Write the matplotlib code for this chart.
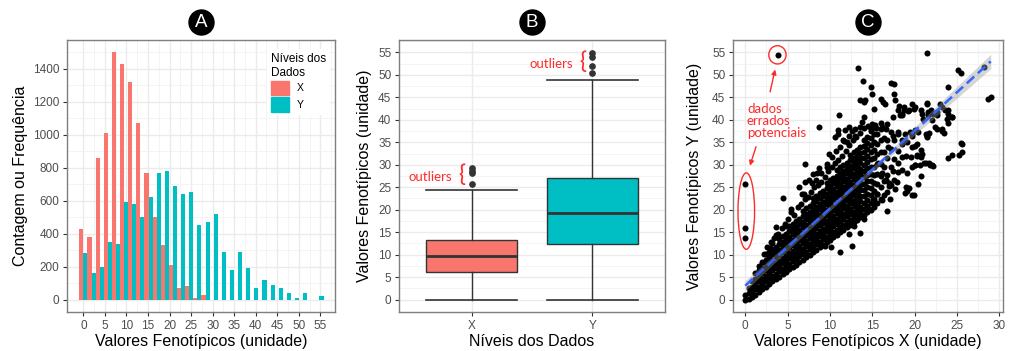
import numpy as np
import matplotlib
matplotlib.use("Agg")
import matplotlib.pyplot as plt
from matplotlib.patches import Ellipse, Patch

plt.rcParams['font.family'] = ['Liberation Sans', 'DejaVu Sans']

RED = '#F8766D'
TEAL = '#00BFC4'
NOTE = '#FF2B2B'

# ---------------- panel A : histogram counts (30 bins from 0 to max) ----------------
hist_min, hist_max = 0.0, 54.8
count_x = [430, 380, 860, 1010, 1500, 1430, 1320, 1070, 770, 500, 330, 210, 70, 80, 10, 30,
           0, 0, 0, 0, 0, 0, 0, 0, 0, 0, 0, 0, 0, 0]
count_y = [280, 160, 200, 350, 340, 590, 580, 500, 620, 770, 780, 690, 640, 650, 450,
           470, 520, 290, 180, 290, 190, 70, 120, 90, 70, 40, 10, 40, 0, 20]
hist_xticks = list(range(0, 60, 5))
hist_yticks = list(range(0, 1600, 200))

# ---------------- panel B : boxplot summaries ----------------
box_names = ['X', 'Y']
box_q1 = [6.1, 12.3]
box_med = [9.6, 19.3]
box_q3 = [13.3, 27.0]
box_lo = [0.0, 0.0]
box_hi = [24.4, 48.8]
box_out = [[25.7, 28.2, 28.7, 29.3], [50.5, 52.0, 54.0, 54.8]]

# ---------------- panel C : scatter X vs Y ----------------
# dense cloud, read column by column (x, list of y)
cloud_cols = [
    (0.0, [0.0, 1.0]),
    (0.4, [0.2, 1.4, 2.6]),
    (0.8, [0.5, 1.7, 2.9, 4.1]),
    (1.2, [1.1, 2.3, 3.5, 4.7, 5.9]),
    (1.6, [1.7, 2.9, 4.1, 5.3, 6.5, 7.4]),
    (2.0, [2.3, 3.5, 4.7, 5.9, 7.1, 8.3]),
    (2.4, [2.9, 4.1, 5.3, 6.5, 7.7, 8.9, 10.1]),
    (2.8, [3.5, 4.7, 5.9, 7.1, 8.3, 9.5, 10.7]),
    (3.2, [4.1, 5.3, 6.5, 7.7, 8.9, 10.1, 11.3]),
    (3.6, [4.6, 5.8, 7.0, 8.2, 9.4, 10.6, 11.8]),
    (4.0, [5.1, 6.3, 7.5, 8.7, 9.9, 11.1, 12.3, 13.5]),
    (4.4, [5.7, 6.9, 8.1, 9.3, 10.5, 11.7, 12.9, 14.1]),
    (4.8, [6.2, 7.4, 8.6, 9.8, 11.0, 12.2, 13.4, 14.6]),
    (5.2, [6.8, 8.0, 9.2, 10.4, 11.6, 12.8, 14.0, 15.2, 16.4]),
    (5.6, [7.3, 8.5, 9.7, 10.9, 12.1, 13.3, 14.5, 15.7, 16.9]),
    (6.0, [7.8, 9.0, 10.2, 11.4, 12.6, 13.8, 15.0, 16.2, 17.4]),
    (6.4, [8.4, 9.6, 10.8, 12.0, 13.2, 14.4, 15.6, 16.8, 18.0]),
    (6.8, [8.9, 10.1, 11.3, 12.5, 13.7, 14.9, 16.1, 17.3, 18.5, 19.7]),
    (7.2, [9.5, 10.7, 11.9, 13.1, 14.3, 15.5, 16.7, 17.9, 19.1, 20.3]),
    (7.6, [10.0, 11.2, 12.4, 13.6, 14.8, 16.0, 17.2, 18.4, 19.6, 20.8]),
    (8.0, [10.6, 11.8, 13.0, 14.2, 15.4, 16.6, 17.8, 19.0, 20.2, 21.4, 22.6]),
    (8.4, [11.1, 12.3, 13.5, 14.7, 15.9, 17.1, 18.3, 19.5, 20.7, 21.9, 23.1]),
    (8.8, [11.7, 12.9, 14.1, 15.3, 16.5, 17.7, 18.9, 20.1, 21.3, 22.5, 23.7]),
    (9.2, [12.2, 13.4, 14.6, 15.8, 17.0, 18.2, 19.4, 20.6, 21.8, 23.0, 24.2]),
    (9.6, [12.8, 14.0, 15.2, 16.4, 17.6, 18.8, 20.0, 21.2, 22.4, 23.6, 24.8, 26.0]),
    (10.0, [13.3, 14.5, 15.7, 16.9, 18.1, 19.3, 20.5, 21.7, 22.9, 24.1, 25.3, 26.5]),
    (10.4, [13.9, 15.1, 16.3, 17.5, 18.7, 19.9, 21.1, 22.3, 23.5, 24.7, 25.9, 27.1]),
    (10.8, [14.4, 15.6, 16.8, 18.0, 19.2, 20.4, 21.6, 22.8, 24.0, 25.2, 26.4, 27.6, 28.8]),
    (11.2, [15.0, 16.2, 17.4, 18.6, 19.8, 21.0, 22.2, 23.4, 24.6, 25.8, 27.0, 28.2, 29.4]),
    (11.6, [15.5, 16.7, 17.9, 19.1, 20.3, 21.5, 22.7, 23.9, 25.1, 26.3, 27.5, 28.7, 29.9]),
    (12.0, [16.1, 17.3, 18.5, 19.7, 20.9, 22.1, 23.3, 24.5, 25.7, 26.9, 28.1, 29.3, 30.5]),
    (12.4, [16.6, 17.8, 19.0, 20.2, 21.4, 22.6, 23.8, 25.0, 26.2, 27.4, 28.6, 29.8, 31.0, 32.2]),
    (12.8, [17.2, 18.4, 19.6, 20.8, 22.0, 23.2, 24.4, 25.6, 26.8, 28.0, 29.2, 30.4, 31.6, 32.8]),
    (13.2, [17.7, 18.9, 20.1, 21.3, 22.5, 23.7, 24.9, 26.1, 27.3, 28.5, 29.7, 30.9, 32.1, 33.3]),
    (13.6, [18.3, 19.5, 20.7, 21.9, 23.1, 24.3, 25.5, 26.7, 27.9, 29.1, 30.3, 31.5, 32.7, 33.9]),
    (14.0, [18.8, 20.2, 21.6, 23.0, 24.4, 25.8, 27.2, 28.6, 30.0, 31.4, 32.8, 34.2, 35.6]),
    (14.4, [19.4, 20.8, 22.2, 23.6, 25.0, 26.4, 27.8, 29.2, 30.6, 32.0, 33.4, 34.8, 36.2]),
    (14.8, [20.0, 21.6, 23.2, 24.8, 26.4, 28.0, 29.6, 31.2, 32.8, 34.4, 36.0, 37.4]),
    (15.2, [20.6, 22.4, 24.2, 26.0, 27.8, 29.6, 31.4, 33.2, 35.0, 36.8]),
    (15.6, [21.4, 23.6, 25.8, 28.0, 30.2, 32.4, 34.6, 36.8]),
    (16.0, [22.4, 25.0, 27.6, 30.2, 32.8, 35.4, 38.0]),
    (16.4, [23.2, 26.4, 29.6, 32.8, 36.0]),
    (16.8, [24.0, 27.8, 31.6, 35.4]),
    (17.2, [25.4, 29.4, 33.4, 37.2]),
    (17.6, [26.6, 31.2, 35.6]),
    (18.0, [28.4, 33.0, 36.8]),
]

# loose points around the cloud
stray_pts = [
    (0.0, 25.8), (0.0, 16.0), (0.0, 13.7), (3.84, 54.4),
    (2.6, 11.8), (3.0, 12.9), (3.4, 13.6), (3.9, 14.6), (4.3, 16.0), (4.7, 16.9), (5.0, 18.0),
    (5.4, 19.6), (5.8, 18.9), (6.2, 20.6), (6.6, 21.3), (7.0, 22.4), (6.9, 23.4), (7.4, 22.8),
    (7.8, 24.0), (8.1, 25.1), (8.6, 25.4), (8.3, 26.5), (9.0, 26.2), (9.4, 27.3), (8.9, 28.2),
    (9.8, 28.6), (10.2, 29.4), (9.6, 30.1), (10.6, 30.4), (11.0, 31.1), (10.3, 31.8), (11.4, 32.0),
    (11.9, 33.1), (11.2, 34.0), (12.3, 34.5), (12.7, 35.4), (12.2, 36.4), (13.1, 36.1), (13.5, 37.0),
    (13.0, 38.0), (14.0, 38.2), (14.5, 38.6), (15.0, 39.0), (15.4, 38.2), (16.0, 39.3), (16.6, 38.0),
    (13.8, 39.5), (12.6, 37.6), (11.7, 35.3), (10.7, 33.0), (9.9, 32.3), (10.9, 36.9), (11.1, 41.0),
    (12.3, 38.4), (8.7, 38.4), (7.1, 30.1), (4.4, 22.7), (6.4, 25.1), (7.0, 26.2), (7.5, 26.6),
    (8.0, 27.9), (8.5, 28.1), (8.7, 29.2), (9.7, 29.5), (14.0, 40.6),
    (3.6, 14.4), (2.9, 11.4), (3.6, 16.2), (2.2, 10.1), (3.2, 12.7), (4.8, 16.4), (5.4, 20.1),
    (6.7, 23.4), (7.9, 26.0),
    (13.3, 51.5), (13.9, 48.7), (14.9, 47.4), (15.0, 45.8), (13.5, 44.3), (14.1, 44.4), (14.0, 43.9),
    (15.2, 42.5), (16.05, 44.7), (16.3, 43.9), (16.5, 43.6), (17.2, 48.1), (17.6, 48.0), (17.6, 45.8),
    (17.7, 44.3), (18.2, 43.0), (18.7, 42.1), (18.5, 41.0), (19.2, 41.9),
    (11.0, 37.7), (11.8, 37.7), (10.6, 36.2), (11.6, 35.4), (12.0, 35.1), (13.0, 36.5), (13.6, 38.4),
    (14.8, 38.0), (15.3, 38.8), (17.5, 36.5), (18.1, 37.3), (16.9, 34.0), (18.5, 35.4), (19.1, 35.1),
    (19.5, 37.3),
    (21.5, 54.9), (25.1, 51.1), (25.5, 50.4), (28.2, 51.7), (23.9, 47.4), (28.7, 44.7), (29.0, 45.0),
    (19.7, 43.6), (20.0, 42.8), (21.5, 43.7), (20.8, 42.1), (21.9, 42.1), (22.6, 41.0), (23.6, 42.1),
    (23.9, 41.3), (24.4, 40.6), (23.8, 40.2), (23.0, 43.6), (21.0, 40.2), (21.6, 41.0), (22.1, 39.9),
    (20.0, 37.7), (20.4, 37.3), (22.7, 38.0), (23.3, 37.5), (19.7, 36.5), (21.5, 36.5), (20.0, 34.1),
    (20.75, 33.2), (20.8, 31.7), (21.4, 30.3), (21.8, 29.9), (22.2, 29.7), (19.7, 29.5), (20.0, 29.9),
    (25.5, 34.8), (24.0, 31.4), (24.4, 32.1), (20.25, 32.1), (20.4, 25.8), (19.9, 23.2),
    (16.7, 19.7), (13.6, 14.9), (12.6, 12.0), (11.2, 10.5), (10.1, 11.6), (9.4, 12.0), (12.2, 14.6),
    (12.8, 16.4), (15.3, 21.5), (17.1, 22.3), (16.95, 25.2), (19.1, 24.1), (19.3, 24.9), (14.6, 20.1),
    (14.0, 17.9),
    (15.1, 22.3), (15.6, 23.6), (16.2, 22.1), (16.96, 26.0), (17.9, 26.2), (17.7, 24.7), (18.9, 23.8),
    (19.7, 23.3), (19.0, 25.1), (20.8, 27.5), (20.1, 29.9), (20.7, 29.9), (21.1, 30.3), (21.7, 30.3),
    (22.1, 29.9), (19.6, 31.7), (20.3, 31.9), (20.9, 32.5), (19.1, 28.1), (18.5, 28.8), (17.4, 28.6),
    (18.1, 30.3), (15.7, 30.3), (16.2, 28.1), (16.6, 26.6), (18.5, 31.7), (19.0, 31.9), (21.7, 37.1),
    (24.0, 42.1), (24.4, 40.6), (23.9, 39.3), (23.2, 38.0), (23.5, 37.1), (22.4, 38.4), (22.2, 41.3),
    (22.6, 41.7), (23.2, 42.8), (21.5, 43.6), (21.6, 41.7), (20.9, 41.3), (19.9, 42.5), (19.3, 42.1),
    (18.5, 41.3), (18.3, 41.0), (25.2, 32.1), (25.6, 32.9), (25.6, 34.7), (21.3, 36.9), (21.5, 36.2),
    (20.3, 34.7), (19.7, 34.0), (18.5, 34.7), (19.7, 36.9), (18.9, 36.9), (16.2, 38.4), (16.8, 39.1),
    (17.4, 40.6), (18.1, 42.1), (18.7, 42.8),
]
# fitted lm line (slope, intercept)
lm_coef = [1.72, 3.1]

sc_xticks = list(range(0, 35, 5))
val_yticks = list(range(0, 60, 5))

sc_x = [cx for cx, ys in cloud_cols for _ in ys] + [p[0] for p in stray_pts]
sc_y = [y for cx, ys in cloud_cols for y in ys] + [p[1] for p in stray_pts]
sc_x = np.array(sc_x)
sc_y = np.array(sc_y)


def style_axes(ax):
    ax.set_facecolor('white')
    for s in ax.spines.values():
        s.set_color('#7F7F7F')
        s.set_linewidth(1.0)
    ax.tick_params(which='major', length=3, width=0.8, color='#333333',
                   labelsize=8.5, labelcolor='#4D4D4D', pad=2.5)
    ax.tick_params(which='minor', length=0)
    ax.grid(which='major', color='#EBEBEB', linewidth=1.0, zorder=0)
    ax.grid(which='minor', color='#F2F2F2', linewidth=0.6, zorder=0)
    ax.set_axisbelow(True)


def titles(ax, xt, yt, ypos):
    ax.set_xlabel(xt, fontsize=11.5, va='center')
    ax.set_ylabel(yt, fontsize=11.5, va='center')
    ax.xaxis.set_label_coords(0.5, -0.108)
    ax.yaxis.set_label_coords(ypos, 0.5)


def badge(ax, letter):
    ax.plot([0.5], [1.067], 'o', ms=18, color='black', transform=ax.transAxes, clip_on=False)
    ax.text(0.5, 1.066, letter, color='white', fontsize=13.5, ha='center', va='center',
            transform=ax.transAxes)


fig = plt.figure(figsize=(10.1, 3.51), dpi=100)
axA = fig.add_axes([67 / 1010, 1 - 312 / 351, 268 / 1010, 272 / 351])
axB = fig.add_axes([399 / 1010, 1 - 312 / 351, 266 / 1010, 272 / 351])
axC = fig.add_axes([733 / 1010, 1 - 312 / 351, 270 / 1010, 272 / 351])

# ---- A
bw = (hist_max - hist_min) / (len(count_x) - 1)
centers = hist_min + bw * np.arange(len(count_x))
style_axes(axA)
axA.bar(centers - bw / 4, count_x, width=bw / 2, color=RED, linewidth=0, zorder=2)
axA.bar(centers + bw / 4, count_y, width=bw / 2, color=TEAL, linewidth=0, zorder=2)
axA.set_xlim(-3.8, 58.4)
axA.set_ylim(-75, 1575)
axA.set_xticks(hist_xticks)
axA.set_yticks(hist_yticks)
axA.set_xticks(np.arange(2.5, 60, 5), minor=True)
axA.set_yticks(np.arange(100, 1600, 200), minor=True)
titles(axA, 'Valores Fenotípicos (unidade)', 'Contagem ou Frequência', -0.175)
leg = axA.legend(handles=[Patch(color=RED, label='X'), Patch(color=TEAL, label='Y')],
                 title='Níveis dos\nDados', loc='upper right', bbox_to_anchor=(1.0, 0.985),
                 frameon=True, facecolor='white', edgecolor='none', fancybox=False,
                 fontsize=7.5, title_fontsize=8.5, handlelength=1.75, handleheight=1.75,
                 labelspacing=0.2, borderpad=0.35, handletextpad=0.7, alignment='left')
leg.get_frame().set_alpha(1)
badge(axA, 'A')

# ---- B
style_axes(axB)
stats = []
for i in range(len(box_names)):
    stats.append(dict(label=box_names[i], q1=box_q1[i], med=box_med[i], q3=box_q3[i],
                      whislo=box_lo[i], whishi=box_hi[i], fliers=box_out[i]))
bp = axB.bxp(stats, positions=[1, 2], widths=0.75, capwidths=0.75, patch_artist=True,
             boxprops=dict(edgecolor='#333333', linewidth=1.0),
             whiskerprops=dict(color='#333333', linewidth=1.0),
             capprops=dict(color='#333333', linewidth=1.2),
             medianprops=dict(color='#333333', linewidth=2.0),
             flierprops=dict(marker='o', markerfacecolor='#333333', markeredgecolor='#333333',
                             markersize=3.8))
for patch, col in zip(bp['boxes'], [RED, TEAL]):
    patch.set_facecolor(col)
    patch.set_zorder(2)
axB.set_xlim(0.4, 2.6)
axB.set_ylim(-2.75, 57.75)
axB.set_yticks(val_yticks)
axB.set_yticks(np.arange(2.5, 60, 5), minor=True)
axB.xaxis.grid(False, which='minor')
titles(axB, 'Níveis dos Dados', 'Valores Fenotípicos (unidade)', -0.128)
axB.text(0.66, 27.2, 'outliers', color=NOTE, fontsize=9.5, family='Lato', ha='center', va='center')
axB.text(0.92, 27.6, '{', color=NOTE, fontsize=17, family='Lato', ha='center', va='center')
axB.text(1.66, 52.4, 'outliers', color=NOTE, fontsize=9.5, family='Lato', ha='center', va='center')
axB.text(1.92, 52.8, '{', color=NOTE, fontsize=17, family='Lato', ha='center', va='center')
badge(axB, 'B')

# ---- C
style_axes(axC)
axC.scatter(sc_x, sc_y, s=19, color='black', linewidths=0, zorder=2)
xs = np.linspace(sc_x.min(), sc_x.max(), 80)
fit = np.polyval(lm_coef, xs)
resid = sc_y - np.polyval(lm_coef, sc_x)
n = len(sc_x)
s_err = np.sqrt(np.sum(resid ** 2) / (n - 2))
se = s_err * np.sqrt(1 / n + (xs - sc_x.mean()) ** 2 / np.sum((sc_x - sc_x.mean()) ** 2))
axC.fill_between(xs, fit - 1.96 * se, fit + 1.96 * se, color='#999999', alpha=0.4,
                 linewidth=0, zorder=3)
axC.plot(xs, fit, color='#3366FF', linewidth=1.8, dashes=(4, 2), zorder=4)
axC.set_xlim(-1.45, 30.45)
axC.set_ylim(-2.75, 57.75)
axC.set_xticks(sc_xticks)
axC.set_yticks(val_yticks)
axC.set_xticks(np.arange(2.5, 30, 5), minor=True)
axC.set_yticks(np.arange(2.5, 60, 5), minor=True)
titles(axC, 'Valores Fenotípicos X (unidade)', 'Valores Fenotípicos Y (unidade)', -0.141)
axC.add_patch(Ellipse((3.8, 54.45), 2.04, 4.06, fill=False, edgecolor=NOTE, linewidth=1.0, zorder=5))
axC.add_patch(Ellipse((0.12, 19.7), 1.96, 17.0, fill=False, edgecolor=NOTE, linewidth=1.0, zorder=5))
axC.text(0.2, 39.8, 'dados\nerrados\npotenciais', color=NOTE, fontsize=9.5, family='Lato',
         ha='left', va='center', linespacing=1.02, zorder=5)
axC.annotate('', xy=(3.6, 51.8), xytext=(2.86, 45.6),
             arrowprops=dict(arrowstyle='-|>', color=NOTE, lw=1.0, mutation_scale=7), zorder=5)
axC.annotate('', xy=(0.45, 29.2), xytext=(1.37, 34.6),
             arrowprops=dict(arrowstyle='-|>', color=NOTE, lw=1.0, mutation_scale=7), zorder=5)
badge(axC, 'C')

fig.savefig('out.png', dpi=100, facecolor='white')
